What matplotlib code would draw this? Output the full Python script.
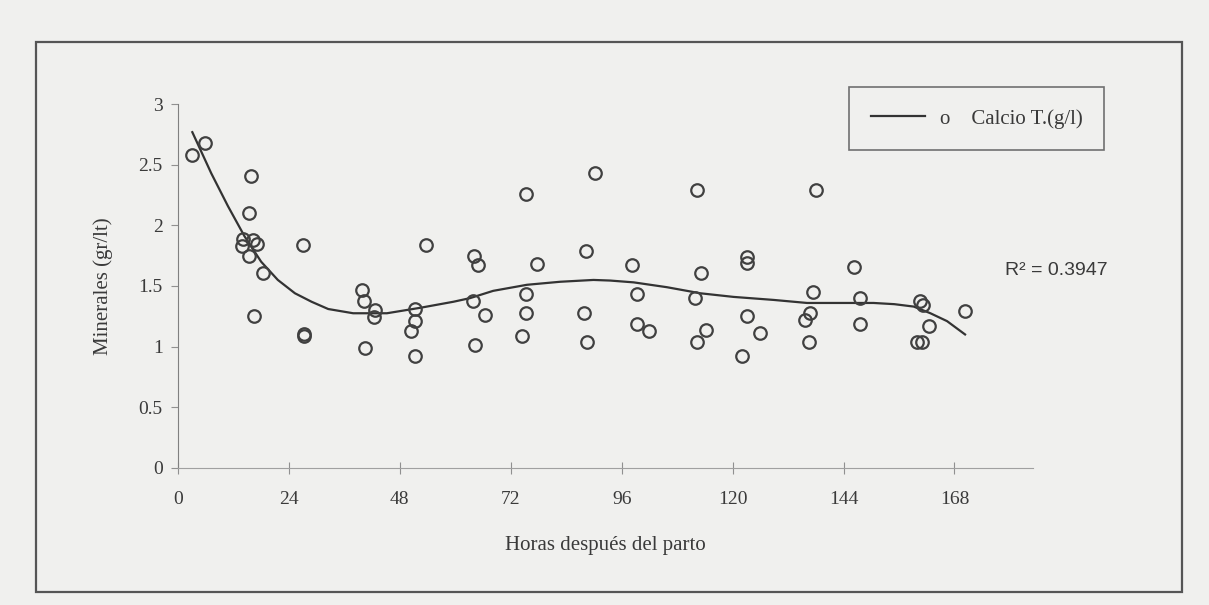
import numpy as np
import matplotlib
matplotlib.use('Agg')
import matplotlib.pyplot as plt
from matplotlib.patches import Rectangle

# hours after calving / total calcium (g/l)
horas = [3.1, 5.8, 15.7, 15.3, 14.1, 13.9, 16.2, 17.2, 15.4, 18.3, 16.4,
         27.1, 27.3, 27.3, 39.9, 40.3, 42.6, 42.4, 40.5, 51.3, 51.3, 50.4,
         51.3, 53.7, 64.1, 65.0, 63.8, 66.5, 64.3, 75.3, 77.6, 75.3, 75.3,
         74.5, 90.3, 88.3, 87.9, 88.5, 98.3, 99.3, 99.3, 102.0, 112.4, 113.2,
         111.9, 114.3, 112.4, 123.1, 123.1, 123.1, 126.0, 122.0, 138.1, 137.4,
         136.7, 135.7, 136.6, 146.2, 147.5, 147.5, 160.6, 161.3, 162.4, 159.9,
         160.9, 170.3]
calcio = [2.58, 2.68, 2.41, 2.10, 1.89, 1.83, 1.88, 1.85, 1.75, 1.61, 1.25,
          1.84, 1.10, 1.09, 1.47, 1.38, 1.30, 1.24, 0.99, 1.31, 1.21, 1.13,
          0.92, 1.84, 1.75, 1.67, 1.38, 1.26, 1.01, 2.26, 1.68, 1.43, 1.28,
          1.09, 2.43, 1.79, 1.28, 1.04, 1.67, 1.43, 1.19, 1.13, 2.29, 1.61,
          1.40, 1.14, 1.04, 1.74, 1.69, 1.25, 1.11, 0.92, 2.29, 1.45, 1.28,
          1.22, 1.04, 1.66, 1.40, 1.19, 1.38, 1.34, 1.17, 1.04, 1.04, 1.29]

# polynomial trend line as drawn in the chart
tend_x = [3.1, 7.2, 10.8, 14.4, 18.0, 21.6, 25.3, 28.9, 32.5, 37.9, 45.2,
          52.4, 59.6, 63.2, 68.2, 75.5, 82.7, 89.9, 93.5, 98.6, 105.8, 113.0,
          120.2, 128.9, 136.1, 143.3, 150.5, 155.0, 159.2, 162.8, 166.4, 170.3]
tend_y = [2.77, 2.43, 2.16, 1.91, 1.70, 1.55, 1.44, 1.37, 1.31, 1.275, 1.275,
          1.32, 1.37, 1.40, 1.46, 1.51, 1.535, 1.55, 1.545, 1.53, 1.49, 1.44,
          1.41, 1.385, 1.36, 1.36, 1.36, 1.35, 1.33, 1.275, 1.21, 1.10]

xticks = [0, 24, 48, 72, 96, 120, 144, 168]
yticks = [0, 0.5, 1, 1.5, 2, 2.5, 3]
ytick_labels = ['0', '0.5', '1', '1.5', '2', '2.5', '3']

bg = '#f0f0ee'
ink = '#3a3a3a'
serif = ['Liberation Serif', 'DejaVu Serif']

fig = plt.figure(figsize=(12.09, 6.05), dpi=100, facecolor=bg)
ax = fig.add_axes([178/1209, 1-467.7/605, (1033-178)/1209, (467.7-104.3)/605])
ax.set_facecolor(bg)

# outer chart frame
fig.patches.append(Rectangle((36/1209, 1-592/605), 1146/1209, 550/605,
                             transform=fig.transFigure, fill=False,
                             edgecolor='#555555', linewidth=1.6))

ax.plot(tend_x, tend_y, color='#333333', linewidth=1.6, zorder=2)
ax.plot(horas, calcio, linestyle='none', marker='o', markersize=9,
        markerfacecolor='none', markeredgecolor='#404040',
        markeredgewidth=1.6, zorder=3)

ax.set_xlim(0, 185)
ax.set_ylim(0, 3)
ax.set_xticks(xticks)
ax.set_yticks(yticks)
ax.set_yticklabels(ytick_labels)

for s in ['top', 'right']:
    ax.spines[s].set_visible(False)
ax.spines['left'].set_color('#808080')
ax.spines['bottom'].set_color('#a0a0a0')
ax.tick_params(axis='x', direction='inout', length=8, color='#909090',
               labelsize=14, labelcolor=ink, pad=13)
ax.tick_params(axis='y', direction='out', length=5, color='#909090',
               labelsize=14, labelcolor=ink, pad=6)
for lab in ax.get_xticklabels() + ax.get_yticklabels():
    lab.set_family(serif)

ax.set_xlabel('Horas después del parto', family=serif, fontsize=15,
              color=ink, labelpad=20)
ax.set_ylabel('Minerales (gr/lt)', family=serif, fontsize=15,
              color=ink, labelpad=18)

fig.text(1005/1209, 1-270/605, 'R² = 0.3947', family=['Liberation Sans'],
         fontsize=14, color=ink, va='center', ha='left')

leg_line, = ax.plot([], [], color='#333333', linewidth=1.6)
leg = ax.legend([leg_line], ['o    Calcio T.(g/l)'], loc='upper left',
                bbox_to_anchor=(849/1209, 1-87/605),
                bbox_transform=fig.transFigure, borderaxespad=0,
                fancybox=False, framealpha=1, facecolor=bg,
                edgecolor='#707070', borderpad=1.05, handlelength=2.6,
                handletextpad=0.7, prop={'family': serif, 'size': 15})
leg.get_frame().set_linewidth(1.2)
for t in leg.get_texts():
    t.set_color(ink)

fig.savefig('out.png', dpi=100, facecolor=bg)
